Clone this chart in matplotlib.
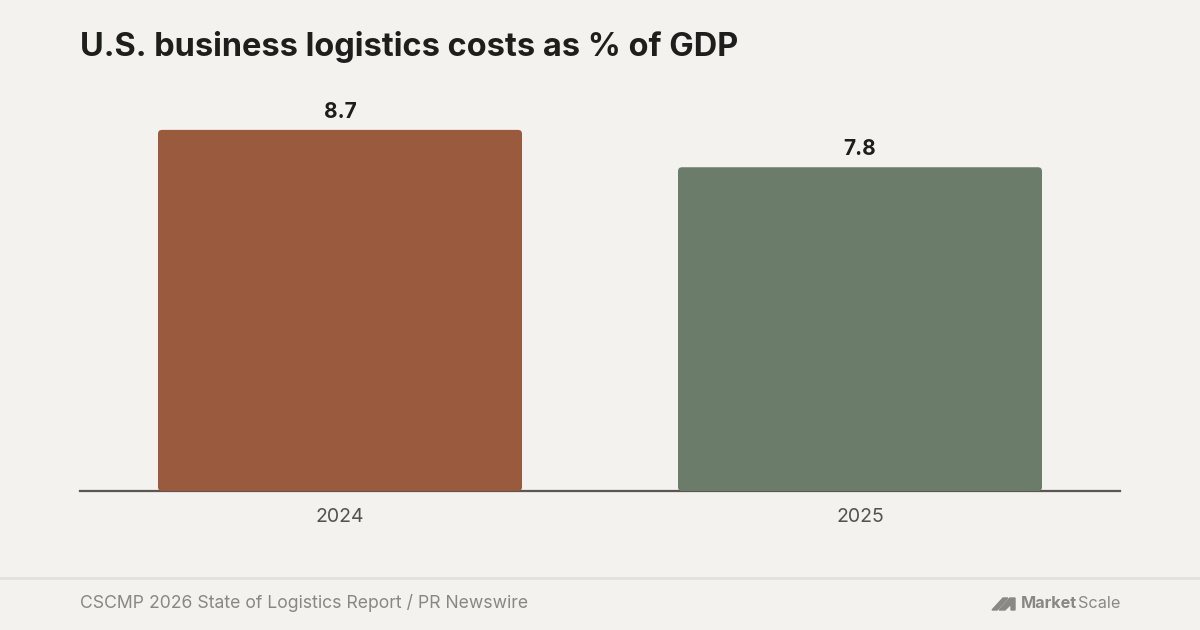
import matplotlib.pyplot as plt
from matplotlib.patches import Polygon, FancyBboxPatch

years = ['2024', '2025']
values = [8.7, 7.8]
bar_colors = ['#9A5A3E', '#6B7D6A']

title = 'U.S. business logistics costs as % of GDP'
source = 'CSCMP 2026 State of Logistics Report / PR Newswire'

bg = '#F3F2EE'
plt.rcParams['font.family'] = ['Inter', 'DejaVu Sans']

fig = plt.figure(figsize=(12, 6.3), dpi=100, facecolor=bg)
ax = fig.add_axes([80 / 1200, 139 / 630, 1040 / 1200, 391 / 630], facecolor=bg)

x = range(len(years))
ax.set_xlim(-0.5, 1.5)
ax.set_ylim(0, 9.42)
bars = ax.bar(x, values, width=0.7, color=bar_colors, zorder=2)

# swap plain bars for slightly rounded ones
px_x = 1040 / 2.0
px_y = 391 / 9.42
for b, v in zip(bars, values):
    b.set_visible(False)
    r = 4 / px_x
    ax.add_patch(FancyBboxPatch((b.get_x(), b.get_y()), b.get_width(), b.get_height(),
                                boxstyle=f'round,pad=0,rounding_size={r}',
                                mutation_aspect=px_x / px_y,
                                facecolor=b.get_facecolor(), edgecolor='none', zorder=2))
    ax.text(b.get_x() + b.get_width() / 2, v + 0.2, f'{v:.1f}', ha='center', va='bottom',
            fontsize=15, fontweight='bold', color='#1E1E1C')

ax.set_xticks(list(x))
ax.set_xticklabels(years, fontsize=14, color='#55524D')
ax.tick_params(axis='x', length=0, pad=12)
ax.set_yticks([])
for s in ['top', 'right', 'left']:
    ax.spines[s].set_visible(False)
ax.spines['bottom'].set_color('#5A5652')
ax.spines['bottom'].set_linewidth(1.6)
ax.spines['bottom'].set_zorder(1)

fig.text(80 / 1200, 1 - 47 / 630, title, fontsize=23.4, fontweight='bold', color='#1E1E1C',
         va='center', ha='left')

# footer
fig.add_artist(plt.Line2D([0, 1], [1 - 578 / 630] * 2, color='#E4E2DD', lw=2))
fig.text(80 / 1200, 1 - 603 / 630, source, fontsize=12.7, color='#8A8782', va='center', ha='left')

# logo
logo_grey = '#8A8884'
def px(xp, yp):
    return (xp / 1200, 1 - yp / 630)
fig.add_artist(Polygon([px(992, 610), px(1003, 598), px(1008, 598), px(997, 610)],
                       closed=True, color=logo_grey, transform=fig.transFigure))
fig.add_artist(Polygon([px(999, 610), px(1010, 598), px(1015, 598), px(1015, 610), px(1011, 610), px(1011, 604), px(1005, 610)],
                       closed=True, color=logo_grey, transform=fig.transFigure))
t1 = fig.text(1021 / 1200, 1 - 604 / 630, 'Market', fontsize=11.7, fontweight='bold', color=logo_grey,
              va='center', ha='left')
fig.canvas.draw()
bb = t1.get_window_extent()
fig.text(bb.x1 / 1200 + 0.0005, 1 - 604 / 630, 'Scale', fontsize=11.7, color=logo_grey, va='center', ha='left')

fig.savefig('out.png', dpi=100, facecolor=bg)
